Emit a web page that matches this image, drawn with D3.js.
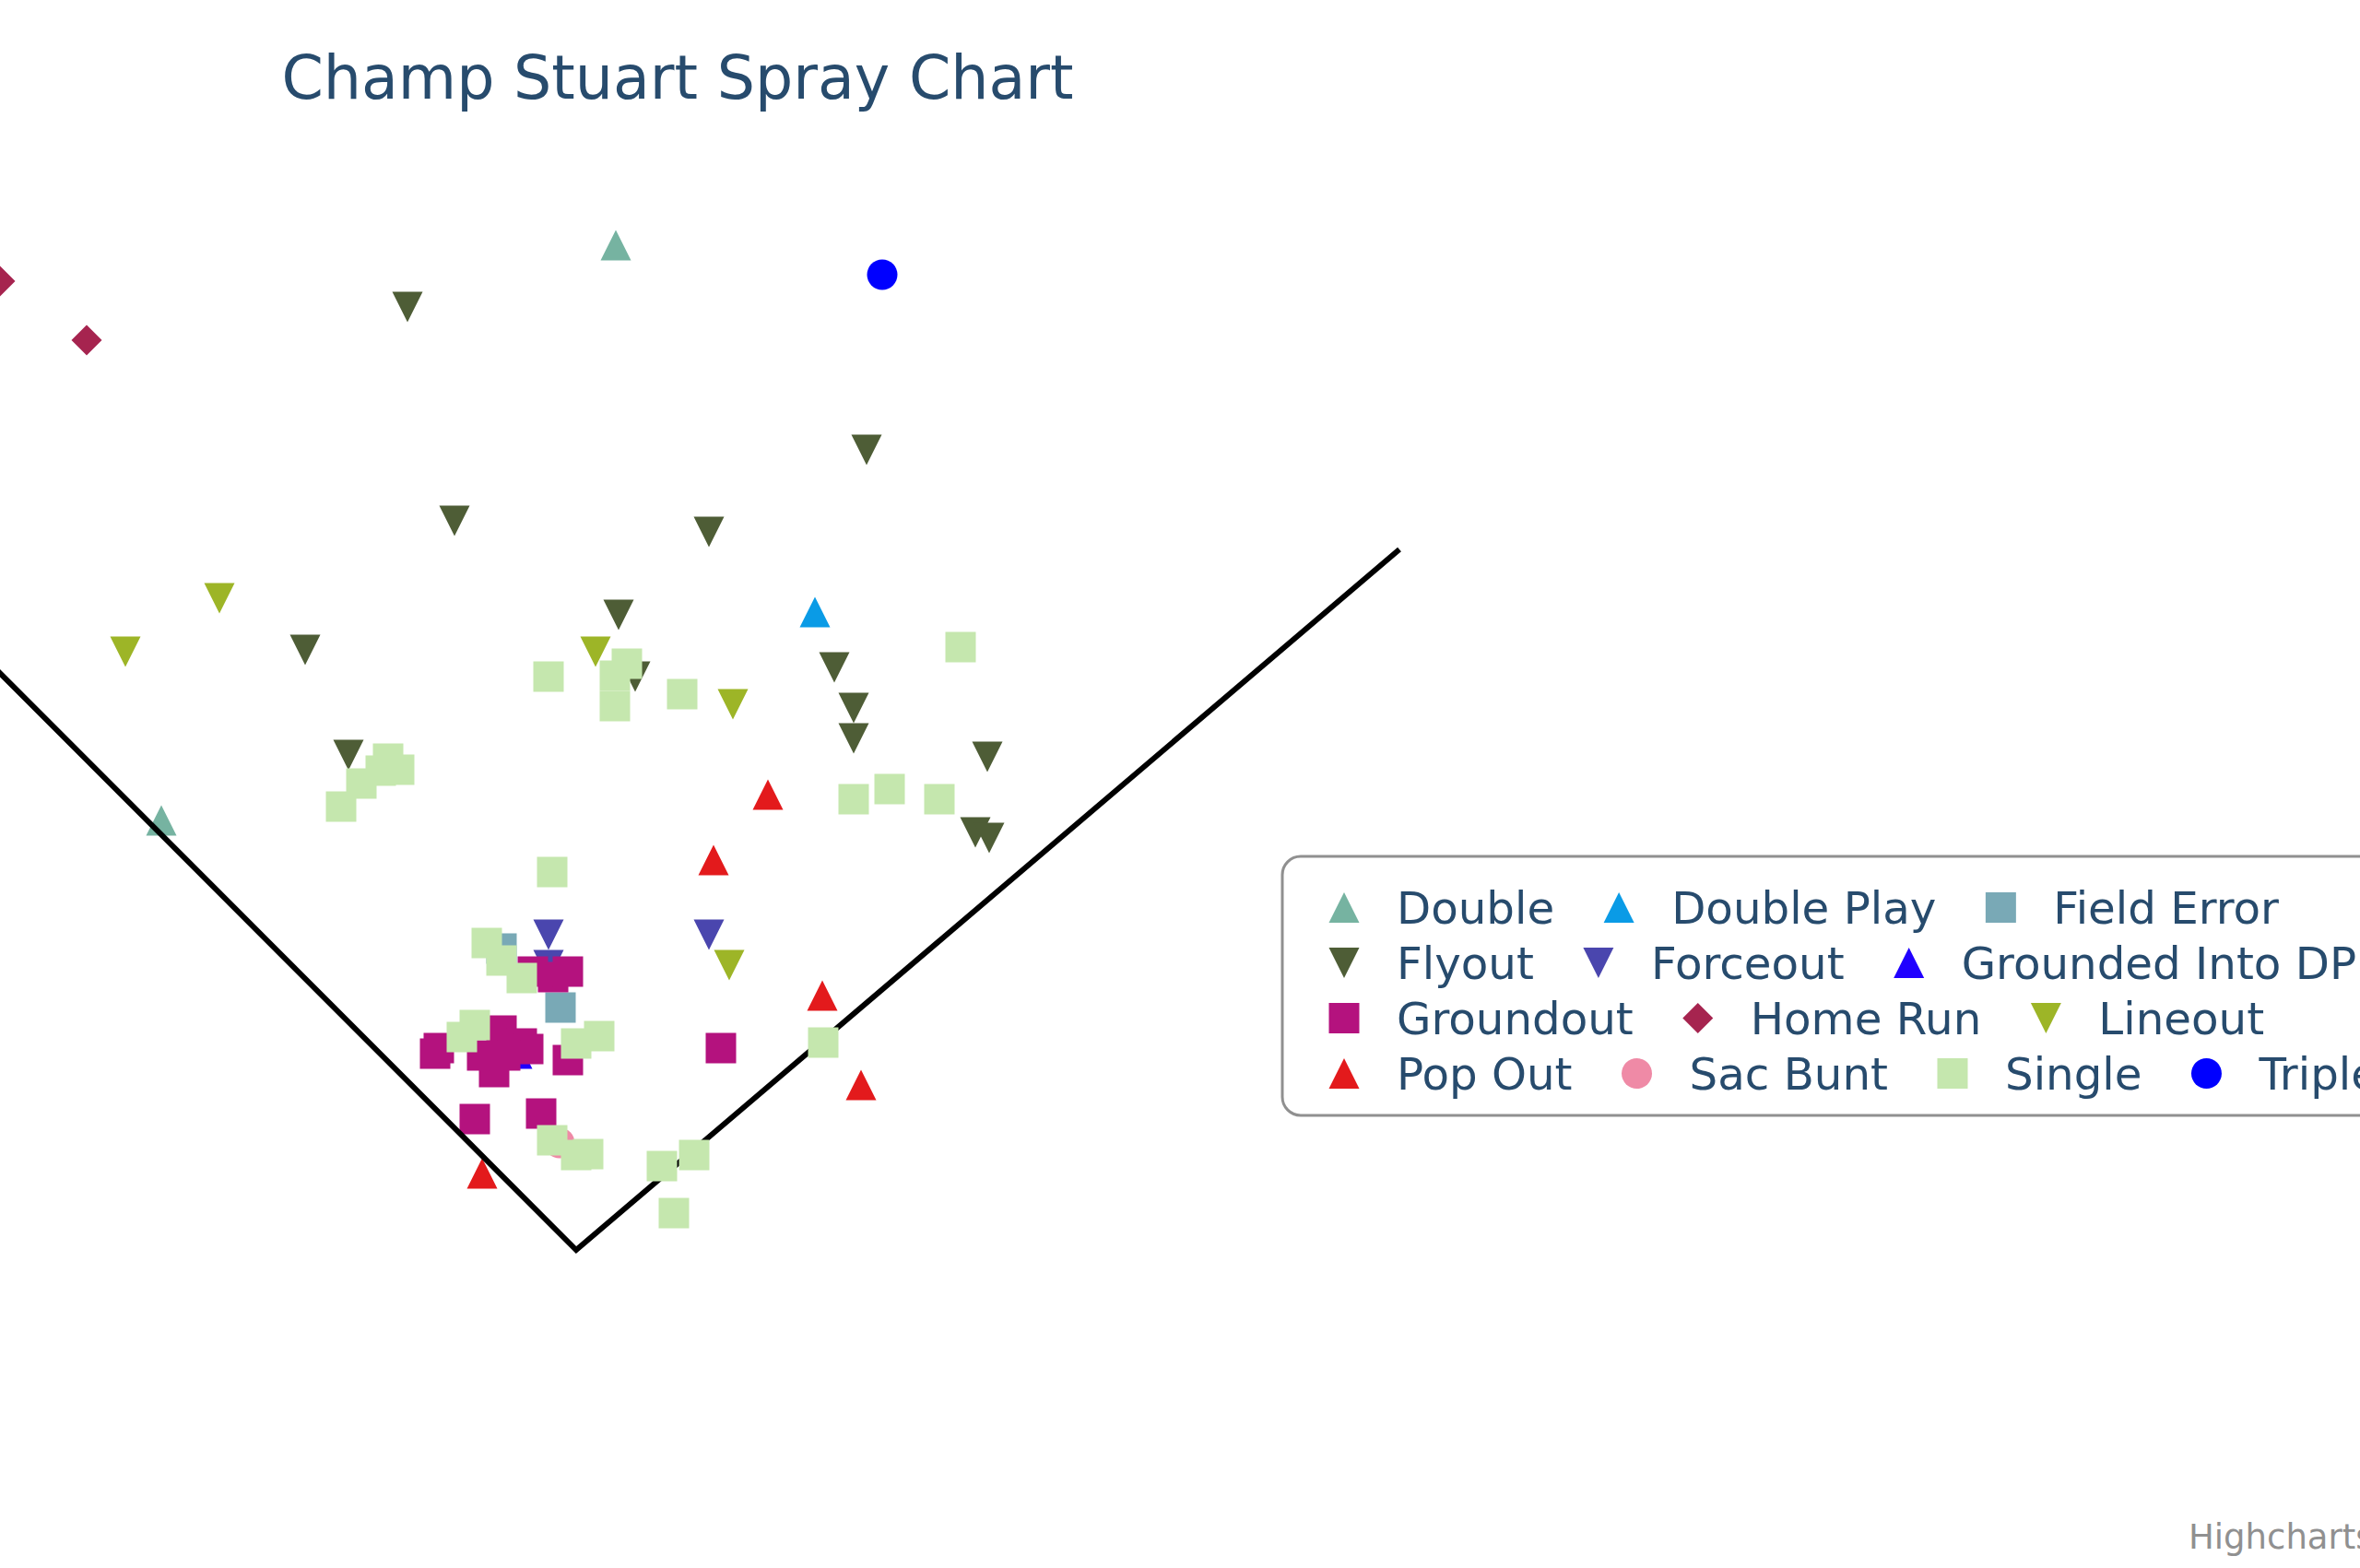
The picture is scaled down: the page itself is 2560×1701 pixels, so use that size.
<!DOCTYPE html>
<html>
<head>
<meta charset="utf-8">
<script src="https://cdn.jsdelivr.net/npm/d3@7"></script>
<style>
body{margin:0;background:#fff}
svg{display:block}
</style>
</head>
<body>
<svg id="chart" width="2560" height="1701"></svg>
<script>
// hit coordinates (hc_x, hc_y), y grows toward home plate
let double_=[[133.6,53.2],[35.0,178.0]]
let doublePlay=[[176.8,132.8]]
let fieldError=[[108.8,205.8],[121.6,218.6]]
let flyout=[[88.4,66.6],[188.0,97.6],[98.6,113.0],[153.8,115.4],[134.2,133.4],[66.2,141.0],[181.0,144.8],
[185.2,153.6],[185.2,160.2],[214.2,164.2],[75.6,163.8],[211.6,180.6],[214.6,181.8],[137.8,146.8]]
let forceout=[[119.0,202.8],[119.0,209.4],[153.8,202.8]]
let groundedDP=[[112.2,228.6]]
let groundout=[[115.6,210.8],[120.0,212.0],[123.2,210.8],[123.2,230.0],[95.2,227.4],[94.4,228.6],[108.8,223.6],
[113.2,226.4],[114.6,227.6],[104.6,229.0],[107.2,232.6],[109.6,229.0],[103.0,242.8],[117.4,241.6],[156.4,227.4]]
let homeRun=[[0.0,61.0],[18.8,73.8]]
let lineout=[[47.6,129.8],[27.2,141.4],[129.2,141.4],[159.0,152.8],[158.2,209.4]]
let popOut=[[166.6,172.4],[154.8,186.6],[178.4,216.0],[186.8,235.4],[104.6,254.6]]
let sacBunt=[[121.4,248.0]]
let single=[[208.4,140.4],[119.0,146.8],[136.0,144.0],[133.4,146.6],[133.4,153.2],[148.0,150.6],[84.2,164.6],
[86.6,167.0],[82.6,167.2],[78.4,170.0],[74.0,175.0],[193.0,171.2],[185.2,173.4],[203.8,173.4],[119.8,189.2],
[105.6,204.6],[108.8,208.4],[113.2,212.2],[125.0,226.4],[130.0,224.8],[100.2,225.0],[103.0,222.4],[119.8,247.4],
[125.0,250.6],[127.6,250.4],[143.6,253.0],[150.6,250.6],[146.2,263.2],[178.6,226.2]]
let triple=[[191.4,59.6]]

let foulLines=[[-40,106],[125,271.2],[303.6,119.2]]

let seriesNames=["Double","Double Play","Field Error","Flyout","Forceout","Grounded Into DP","Groundout",
"Home Run","Lineout","Pop Out","Sac Bunt","Single","Triple"]
let seriesData=[double_,doublePlay,fieldError,flyout,forceout,groundedDP,groundout,homeRun,lineout,popOut,sacBunt,single,triple]
let seriesSymbols=["triangle","triangle","square","triangle-down","triangle-down","triangle","square",
"diamond","triangle-down","triangle","circle","square","circle"]
let seriesColors=["#76b3a1","#0a9be6","#79a9b6","#4e5d36","#4a46ae","#2000ff","#b4127e",
"#a6244f","#9db527","#e31a1c","#ef8aa6","#c5e7ae","#0000ff"]

let W=2560,H=1701
let svg=d3.select("#chart")
svg.append("rect").attr("width",W).attr("height",H).attr("fill","#fff")

let x=d3.scaleLinear().domain([0,512]).range([0,W])
let y=d3.scaleLinear().domain([0,340.2]).range([0,H])
let r=16.5

function symbolPath(type,cx,cy){
if(type==="triangle") return `M${cx},${cy-r}L${cx+r},${cy+r}L${cx-r},${cy+r}Z`
if(type==="triangle-down") return `M${cx-r},${cy-r}L${cx+r},${cy-r}L${cx},${cy+r}Z`
if(type==="square") return `M${cx-r},${cy-r}h${2*r}v${2*r}h${-2*r}Z`
if(type==="diamond") return `M${cx},${cy-r}L${cx+r},${cy}L${cx},${cy+r}L${cx-r},${cy}Z`
return `M${cx-r},${cy}a${r},${r} 0 1,0 ${2*r},0a${r},${r} 0 1,0 ${-2*r},0Z`
}

let plot=svg.append("g")

function drawFoulLines(){
plot.append("path")
.attr("d",d3.line().x(d=>x(d[0])).y(d=>y(d[1]))(foulLines))
.attr("fill","none").attr("stroke","#000").attr("stroke-width",6)
}

seriesData.forEach((data,i)=>{
if(i===10) drawFoulLines()
plot.append("g").selectAll("path")
.data(data)
.enter()
.append("path")
.attr("d",d=>symbolPath(seriesSymbols[i],x(d[0]),y(d[1])))
.attr("fill",seriesColors[i])
})

// title
svg.append("text")
.attr("x",735).attr("y",107)
.attr("text-anchor","middle")
.attr("font-family","'DejaVu Sans',Verdana,sans-serif")
.attr("font-size",65)
.attr("fill","#274b6d")
.text("Champ Stuart Spray Chart")

// legend
let legend=svg.append("g")
legend.append("rect")
.attr("x",1391).attr("y",929)
.attr("width",1400).attr("height",281)
.attr("rx",20)
.attr("fill","#fff").attr("stroke","#909090").attr("stroke-width",3)

let lx0=1458,ly0=984.5,rowH=60,maxRight=2650
let lx=lx0,ly=ly0
seriesNames.forEach((name,i)=>{
let t=legend.append("text")
.attr("font-family","'DejaVu Sans',Verdana,sans-serif")
.attr("font-size",48.3)
.attr("fill","#274b6d")
.text(name)
let tw=t.node().getComputedTextLength()
if(lx>lx0 && lx+57+tw>maxRight){
lx=lx0
ly+=rowH
}
t.attr("x",lx+57).attr("y",ly+17)
legend.append("path")
.attr("d",symbolPath(seriesSymbols[i],lx,ly))
.attr("fill",seriesColors[i])
lx+=57+tw+70
})

// credits
svg.append("text")
.attr("x",2374).attr("y",1680)
.attr("font-family","'DejaVu Sans',Verdana,sans-serif")
.attr("font-size",37)
.attr("fill","#909090")
.text("Highcharts.com")
</script>
</body>
</html>
